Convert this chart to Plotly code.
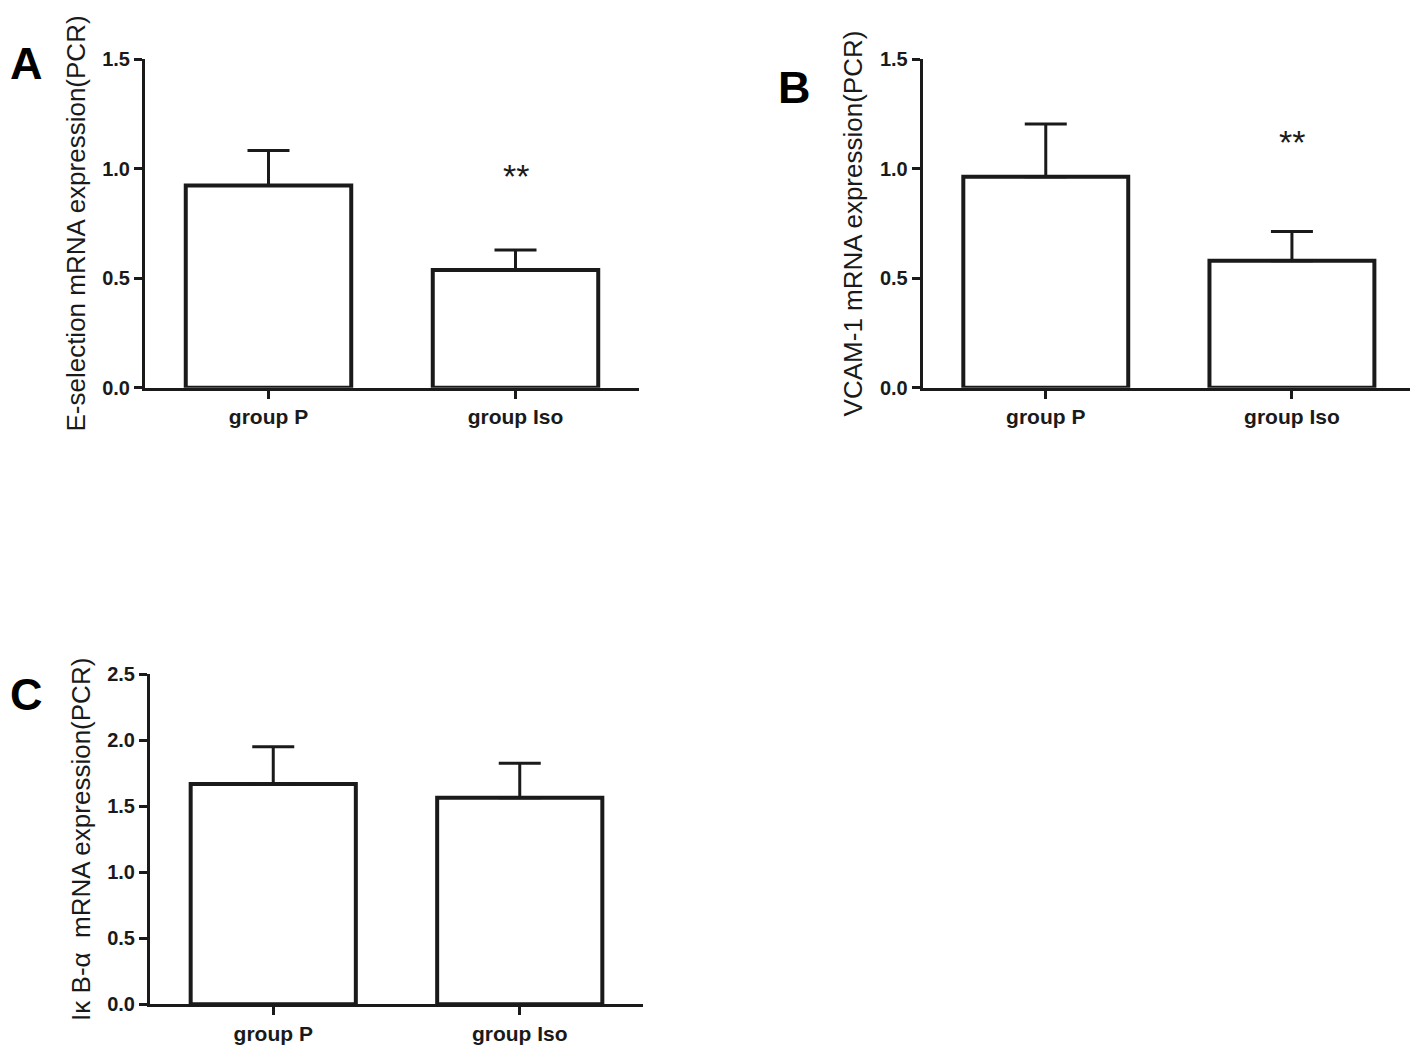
import plotly.graph_objects as go

categories = ["group P", "group Iso"]

eselectin_mean = [0.923, 0.538]
eselectin_sem = [0.160, 0.091]

vcam_mean = [0.964, 0.580]
vcam_sem = [0.241, 0.133]

ikb_mean = [1.669, 1.565]
ikb_sem = [0.283, 0.261]

y_ticks_ab = [0.0, 0.5, 1.0, 1.5]
y_ticks_c = [0.0, 0.5, 1.0, 1.5, 2.0, 2.5]

titles = [
    "E-selection mRNA expression(PCR)",
    "VCAM-1 mRNA expression(PCR)",
    "Iκ B-α  mRNA expression(PCR)",
]
panel_letters = ["A", "B", "C"]

W, H = 1418, 1046
OFF = 8  # page body margin compensation
FONT = "Liberation Sans, Arial, Helvetica, sans-serif"


def px_x(a, b):
    return [(a - OFF) / W, (b - OFF) / W]


def px_y(top, bottom):
    return [(H - (bottom - OFF)) / H, (H - (top - OFF)) / H]


fig = go.Figure()

panels = [
    dict(mean=eselectin_mean, sem=eselectin_sem, xa="x", ya="y"),
    dict(mean=vcam_mean, sem=vcam_sem, xa="x2", ya="y2"),
    dict(mean=ikb_mean, sem=ikb_sem, xa="x3", ya="y3"),
]

for p in panels:
    fig.add_trace(go.Bar(
        x=categories, y=p["mean"], width=0.67,
        marker=dict(color="white", line=dict(color="#1a1a1a", width=4)),
        error_y=dict(type="data", array=p["sem"], arrayminus=[0] * len(p["sem"]),
                     symmetric=False, color="#1a1a1a", thickness=3, width=21),
        xaxis=p["xa"], yaxis=p["ya"], showlegend=False,
    ))

axis_common = dict(showline=True, linecolor="#1a1a1a", linewidth=3,
                   showgrid=False, zeroline=False, ticks="outside",
                   ticklen=8, tickwidth=3, tickcolor="#1a1a1a",
                   automargin=False)
xfont = dict(family=FONT, size=21, color="#1a1a1a", weight="bold")
yfont = dict(family=FONT, size=20, color="#1a1a1a", weight="bold")
tfont = dict(family=FONT, size=26, color="#1a1a1a")

domains = [
    (px_x(145, 639), px_y(59.3, 387.7), [0, 1.5], y_ticks_ab),
    (px_x(922.7, 1415), px_y(59.3, 387.7), [0, 1.5], y_ticks_ab),
    (px_x(150, 643), px_y(674.3, 1004.3), [0, 2.5], y_ticks_c),
]

layout = dict(width=W, height=H, margin=dict(l=0, r=0, t=0, b=0, autoexpand=False),
              plot_bgcolor="white", paper_bgcolor="white", showlegend=False,
              bargap=0.33)

for i, (dx, dy, yr, yt) in enumerate(domains):
    sfx = "" if i == 0 else str(i + 1)
    layout["xaxis" + sfx] = dict(
        axis_common, domain=dx, range=[-0.5, 1.5], type="category",
        tickfont=xfont, anchor="y" + sfx)
    layout["yaxis" + sfx] = dict(
        axis_common, domain=dy, range=yr, tickvals=yt,
        ticktext=[f"{v:.1f}" for v in yt], tickfont=yfont,
        title=dict(text=titles[i], font=tfont, standoff=10),
        anchor="x" + sfx)

fig.update_layout(**layout)

# panel letters (left edge in screen px, vertical centre in screen px)
letter_pos = [(8, 64), (776, 88), (8, 694)]
for letter, (lx, ly) in zip(panel_letters, letter_pos):
    fig.add_annotation(text=letter, x=(lx - OFF) / W, y=(H - (ly - OFF)) / H,
                       xref="paper", yref="paper",
                       showarrow=False, xanchor="left", yanchor="middle",
                       font=dict(family=FONT, size=45, color="black", weight="bold"))

# significance markers
fig.add_annotation(text="**", x="group Iso", y=eselectin_mean[1] + eselectin_sem[1] + 0.34,
                   xref="x", yref="y", showarrow=False, yanchor="middle",
                   font=dict(family=FONT, size=34, color="#1a1a1a"))
fig.add_annotation(text="**", x="group Iso", y=vcam_mean[1] + vcam_sem[1] + 0.41,
                   xref="x2", yref="y2", showarrow=False, yanchor="middle",
                   font=dict(family=FONT, size=34, color="#1a1a1a"))

fig.write_html("out.html")
